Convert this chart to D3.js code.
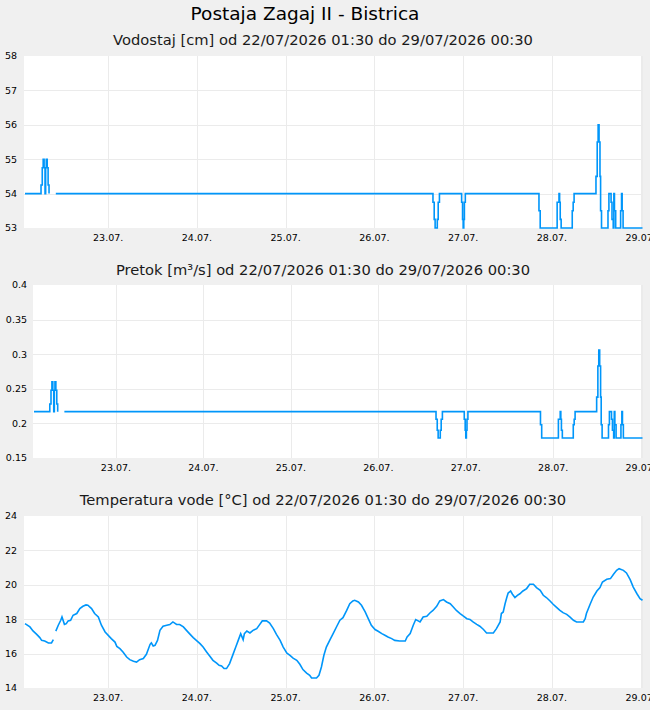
<!DOCTYPE html>
<html>
<head>
<meta charset="utf-8">
<script src="https://cdn.jsdelivr.net/npm/d3@7"></script>
<style>
  body { margin: 0; background: #f0f0f0; }
  svg { display: block; font-family: "DejaVu Sans", sans-serif; }
</style>
</head>
<body>
<script>
// --- data ---
let stationTitle = 'Postaja Zagaj II - Bistrica'
let periodText = 'od 22/07/2026 01:30 do 29/07/2026 00:30'
let periodStart = '22 01:30'
let periodEnd = '29 00:30'

// water level / discharge change points (step series), null = gap
let stepTimes = [
  '22 01:30', '22 05:50', '22 06:10', '22 06:25', '22 06:40', '22 06:55', '22 07:05', '22 07:15',
  '22 07:30', '22 07:45', '22 08:00', '22 09:10', '22 09:50',
  '26 15:50', '26 16:10', '26 16:25', '26 17:00', '26 17:15', '26 17:35',
  '26 23:35', '26 23:50', '27 00:00', '27 00:10', '27 00:20', '27 00:35',
  '27 20:30', '27 20:50', '28 01:25', '28 01:55', '28 02:05', '28 02:15', '28 02:30',
  '28 05:30', '28 05:45', '28 06:00',
  '28 11:55', '28 12:15', '28 12:30', '28 12:45', '28 13:00', '28 13:10', '28 13:25',
  '28 15:10', '28 15:25', '28 16:00', '28 16:15', '28 16:35', '28 16:45', '28 16:55', '28 17:15',
  '28 18:35', '28 18:50', '28 19:00', '28 19:15', '29 00:30'
]
let levelValues = [
  54, 54.25, 54.75, 55, 54.75, 54, 54.75, 55,
  54.75, 54.25, 54, null, 54,
  53.75, 53.25, 53, 53.25, 53.75, 54,
  53.75, 53.25, 53, 53.25, 53.75, 54,
  53.5, 53, 53.75, 54, 53.75, 53.25, 53,
  53.5, 53.75, 54,
  54.5, 55.5, 56, 55.5, 54.5, 53.5, 53,
  53.5, 54, 53.75, 53.25, 53, 54, 53.5, 53,
  53.5, 54, 53.5, 53, 53
]
let flowValues = [
  0.217, 0.228, 0.248, 0.26, 0.248, 0.217, 0.248, 0.26,
  0.248, 0.228, 0.217, null, 0.217,
  0.206, 0.19, 0.179, 0.19, 0.206, 0.217,
  0.206, 0.19, 0.179, 0.19, 0.206, 0.217,
  0.198, 0.179, 0.206, 0.217, 0.206, 0.19, 0.179,
  0.198, 0.206, 0.217,
  0.238, 0.283, 0.306, 0.283, 0.238, 0.198, 0.179,
  0.198, 0.217, 0.206, 0.19, 0.179, 0.217, 0.198, 0.179,
  0.198, 0.217, 0.198, 0.179, 0.179
]

// water temperature
let tempTimes = [
  '22 01:30', '22 02:50', '22 03:40', '22 04:40', '22 05:30', '22 06:00', '22 06:50', '22 07:50', '22 08:40', '22 09:10',
  '22 09:20',
  '22 09:50', '22 10:30', '22 11:10', '22 11:30', '22 12:10', '22 12:40', '22 13:10', '22 13:50', '22 14:30', '22 15:30',
  '22 16:20', '22 17:10', '22 18:00', '22 18:30', '22 19:30', '22 20:20', '22 21:20', '22 22:10', '22 23:10',
  '23 00:50', '23 01:50', '23 02:20', '23 03:10', '23 04:00', '23 05:00', '23 05:50', '23 06:50', '23 07:40', '23 08:30',
  '23 09:30', '23 10:20', '23 11:20', '23 11:40', '23 12:10', '23 12:40', '23 13:20', '23 14:00', '23 14:50', '23 15:50',
  '23 16:40', '23 17:30', '23 18:30', '23 19:20', '23 20:20', '23 21:10', '23 22:10', '23 23:00', '23 23:50',
  '24 00:50', '24 01:40', '24 02:40', '24 03:30', '24 04:20', '24 05:20', '24 06:00', '24 06:40', '24 07:20', '24 08:00',
  '24 08:50', '24 09:50', '24 10:30', '24 11:10', '24 11:50', '24 12:30', '24 12:50', '24 13:30', '24 14:20', '24 15:10',
  '24 16:10', '24 17:00', '24 17:40', '24 18:50', '24 19:40', '24 20:40', '24 21:30', '24 22:30', '24 23:20',
  '25 00:20', '25 01:10', '25 02:00', '25 03:00', '25 03:50', '25 04:40', '25 05:40', '25 06:30', '25 07:00', '25 08:20',
  '25 09:00', '25 09:40', '25 10:20', '25 11:00', '25 12:00', '25 12:50', '25 13:50', '25 14:40', '25 15:30', '25 16:30',
  '25 17:20', '25 18:10', '25 18:40', '25 19:40', '25 20:30', '25 21:30', '25 22:20', '25 23:10',
  '26 00:10', '26 01:00', '26 02:00', '26 02:50', '26 03:40', '26 04:40', '26 05:30', '26 06:50', '26 08:20', '26 08:50',
  '26 09:40', '26 10:30', '26 11:10', '26 11:50', '26 12:20', '26 13:10', '26 14:10', '26 15:00', '26 15:50', '26 16:50',
  '26 17:40', '26 18:40', '26 19:30', '26 20:30', '26 21:20', '26 22:10', '26 23:10',
  '27 00:00', '27 01:00', '27 01:50', '27 02:40', '27 03:40', '27 04:30', '27 05:30', '27 06:20', '27 07:10', '27 08:10',
  '27 09:00', '27 10:00', '27 10:20', '27 10:50', '27 11:20', '27 11:50', '27 12:10', '27 12:50', '27 13:20', '27 14:00',
  '27 14:40', '27 15:20', '27 16:10', '27 17:10', '27 18:00', '27 19:00', '27 19:50', '27 20:50', '27 21:40', '27 22:30',
  '27 23:30',
  '28 00:20', '28 01:20', '28 02:10', '28 03:00', '28 04:00', '28 04:50', '28 05:50', '28 06:40', '28 07:30', '28 08:30',
  '28 09:00', '28 09:20', '28 10:20', '28 11:10', '28 12:10', '28 13:00', '28 13:40', '28 14:50', '28 15:50', '28 16:40',
  '28 17:30', '28 18:10', '28 19:20', '28 20:10', '28 21:10', '28 22:00', '28 23:00', '28 23:50', '29 00:30'
]
let tempValues = [
  17.74, 17.55, 17.32, 17.12, 16.93, 16.77, 16.73, 16.62, 16.62, 16.81,
  null,
  17.31, 17.65, 17.94, 18.13, 17.70, 17.74, 17.90, 17.94, 18.23, 18.33,
  18.62, 18.75, 18.83, 18.81, 18.62, 18.33, 18.13, 17.65, 17.26,
  16.87, 16.67, 16.42, 16.29, 16.09, 15.80, 15.65, 15.55, 15.51, 15.65,
  15.71, 15.96, 16.54, 16.62, 16.44, 16.48, 16.77, 17.35, 17.59, 17.65,
  17.69, 17.84, 17.70, 17.69, 17.55, 17.35, 17.12, 16.93, 16.77,
  16.58, 16.38, 16.08, 15.84, 15.61, 15.45, 15.32, 15.28, 15.13,
  15.13, 15.42, 16.00, 16.38, 16.77, 17.16, 16.81, 17.16, 17.31, 17.20,
  17.35, 17.45, 17.70, 17.90, 17.90, 17.78, 17.45, 17.12, 16.77, 16.38,
  16.03, 15.90, 15.74, 15.61, 15.38, 15.07, 14.87, 14.74, 14.58, 14.58,
  14.74, 15.22, 15.90, 16.38, 16.81, 17.16, 17.59, 17.94, 18.09, 18.51,
  18.90, 19.06, 19.10, 19.00, 18.81, 18.42, 18.03, 17.65,
  17.40, 17.30, 17.16, 17.07, 16.97, 16.87, 16.77, 16.73, 16.73, 16.97,
  17.16, 17.65, 17.98, 17.90, 17.84, 18.13, 18.17, 18.36, 18.51, 18.75,
  19.06, 19.14, 19.00, 18.90, 18.71, 18.51, 18.33,
  18.19, 18.03, 17.99, 17.84, 17.70, 17.59, 17.40, 17.20, 17.20, 17.20,
  17.45, 17.84, 18.33, 18.42, 18.90, 19.29, 19.52, 19.64, 19.45, 19.26,
  19.39, 19.48, 19.64, 19.78, 20.03, 20.03, 19.84, 19.68, 19.39, 19.26,
  19.06,
  18.87, 18.67, 18.51, 18.38, 18.28, 18.13, 17.94, 17.84, 17.84, 17.84,
  18.03, 18.33, 18.87, 19.29, 19.64, 19.84, 20.16, 20.32, 20.36, 20.61,
  20.84, 20.94, 20.84, 20.69, 20.30, 19.87, 19.48, 19.20, 19.10
]

let levelTicks = [53, 54, 55, 56, 57, 58]
let flowTicks = [0.15, 0.2, 0.25, 0.3, 0.35, 0.4]
let tempTicks = [14, 16, 18, 20, 22, 24]

// --- helpers ---
let parseTime = d3.timeParse('%Y-%m-%d %H:%M')
let t = s => parseTime('2026-07-' + s)
let dayFormat = d3.timeFormat('%d.%m.')

let width = 650
let height = 710
let lineColor = '#0096fa'
let gridColor = '#ebebeb'

let svg = d3.select('body').append('svg')
  .attr('width', width)
  .attr('height', height)

svg.append('text')
  .attr('x', 305)
  .attr('y', 20)
  .attr('text-anchor', 'middle')
  .attr('font-size', 18.5)
  .attr('fill', '#000')
  .text(stationTitle)

let steps = stepTimes.map((s, i) => ({time: t(s), level: levelValues[i], flow: flowValues[i]}))
let temps = tempTimes.map((s, i) => ({time: t(s), value: tempValues[i]}))

drawPanel({
  title: 'Vodostaj [cm] ' + periodText, titleY: 45,
  top: 56, bottom: 228, left: 24, x0: 25, right: 643,
  ticks: levelTicks, labelRight: 17,
  data: steps, value: d => d.level, curve: d3.curveStepAfter
})

drawPanel({
  title: 'Pretok [m\u00b3/s] ' + periodText, titleY: 275,
  top: 285, bottom: 458, left: 33, x0: 34, right: 643,
  ticks: flowTicks, labelRight: 27,
  data: steps, value: d => d.flow, curve: d3.curveStepAfter
})

drawPanel({
  title: 'Temperatura vode [\u00b0C] ' + periodText, titleY: 505,
  top: 516, bottom: 688, left: 24, x0: 25, right: 643,
  ticks: tempTicks, labelRight: 17,
  data: temps, value: d => d.value, curve: d3.curveLinear
})

function drawPanel(p) {
  let g = svg.append('g')

  let x = d3.scaleTime()
    .domain([t(periodStart), t(periodEnd)])
    .range([p.x0, p.right - 0.5])

  let y = d3.scaleLinear()
    .domain(d3.extent(p.ticks))
    .range([p.bottom, p.top])

  g.append('text')
    .attr('x', 323)
    .attr('y', p.titleY)
    .attr('text-anchor', 'middle')
    .attr('font-size', 14.7)
    .attr('fill', '#1a1a1a')
    .text(p.title)

  g.append('rect')
    .attr('x', p.left)
    .attr('y', p.top)
    .attr('width', p.right - p.left)
    .attr('height', p.bottom - p.top)
    .attr('fill', '#fff')

  // horizontal grid
  g.selectAll('.hgrid')
    .data(p.ticks.slice(1, -1))
    .enter().append('line')
    .attr('x1', p.left)
    .attr('x2', p.right)
    .attr('y1', d => Math.round(y(d)) + 0.5)
    .attr('y2', d => Math.round(y(d)) + 0.5)
    .attr('stroke', gridColor)

  // vertical grid at midnight
  let days = d3.timeDay.range(d3.timeDay.ceil(x.domain()[0]), x.domain()[1])
  g.selectAll('.vgrid')
    .data(days)
    .enter().append('line')
    .attr('x1', d => Math.round(x(d)) + 0.5)
    .attr('x2', d => Math.round(x(d)) + 0.5)
    .attr('y1', p.top)
    .attr('y2', p.bottom)
    .attr('stroke', gridColor)

  g.append('line')
    .attr('x1', p.right - 0.5).attr('x2', p.right - 0.5)
    .attr('y1', p.top).attr('y2', p.bottom)
    .attr('stroke', gridColor)

  // y labels
  g.selectAll('.ylab')
    .data(p.ticks)
    .enter().append('text')
    .attr('x', p.labelRight)
    .attr('y', d => y(d))
    .attr('dy', '0.35em')
    .attr('text-anchor', 'end')
    .attr('font-size', 9.5)
    .attr('fill', '#000')
    .text(d => d)

  // x labels
  g.selectAll('.xlab')
    .data(days)
    .enter().append('text')
    .attr('x', d => x(d))
    .attr('y', p.bottom + 13)
    .attr('text-anchor', 'middle')
    .attr('font-size', 9.5)
    .attr('fill', '#000')
    .text(d => dayFormat(d))

  let line = d3.line()
    .defined(d => p.value(d) != null)
    .x(d => x(d.time))
    .y(d => y(p.value(d)))
    .curve(p.curve)

  g.append('path')
    .datum(p.data)
    .attr('d', line)
    .attr('fill', 'none')
    .attr('stroke', lineColor)
    .attr('stroke-width', 1.6)
}
</script>
</body>
</html>
